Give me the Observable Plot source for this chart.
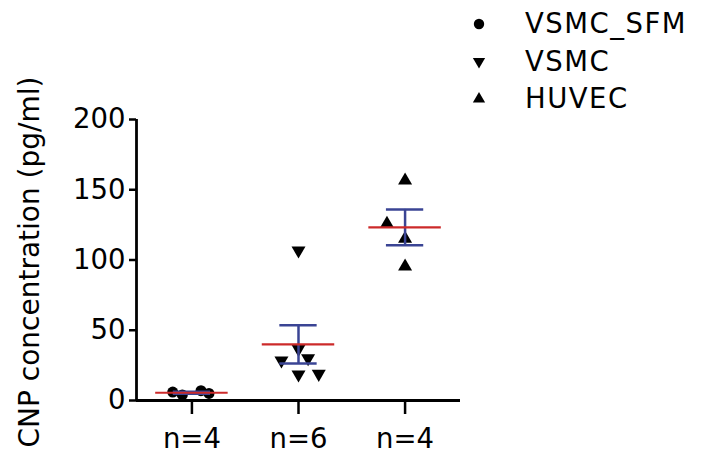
<!DOCTYPE html>
<html><head><meta charset="utf-8">
<script src="https://cdn.jsdelivr.net/npm/d3@7"></script>
<script src="https://cdn.jsdelivr.net/npm/@observablehq/plot@0.6"></script>
<style>
html,body{margin:0;padding:0;background:#fff;}
#wrap{position:relative;width:710px;height:463px;overflow:hidden;}
#wrap svg.chart{position:absolute;left:0;top:0;}
#legend{position:absolute;left:0;top:0;}
#wrap g[aria-label$="tick"] path{stroke-width:2.5px;stroke:#000;}
</style></head><body><div id="wrap"></div>
<script>
// ---- data ----
const seriesNames = ["VSMC_SFM", "VSMC", "HUVEC"];
const tickLabels = ["n=4", "n=6", "n=4"];
const yTicks = [0, 50, 100, 150, 200];
const yLabel = "CNP concentration (pg/ml)";
const sfmValues = [6, 4, 7, 5];
const sfmJitter = [-0.18, -0.09, 0.085, 0.16];
const vsmcValues = [106.8, 28.5, 36.8, 30.1, 18.5, 19.0];
const vsmcJitter = [0, -0.16, 0, 0.09, 0, 0.19];
const huvecValues = [156.6, 125.8, 115.1, 95.4];
const huvecJitter = [0, -0.17, 0, 0];

// ---- derived tables ----
const seriesValues = [sfmValues, vsmcValues, huvecValues];
const seriesJitter = [sfmJitter, vsmcJitter, huvecJitter];
const points = seriesValues.map((vals, g) =>
  vals.map((v, i) => ({g, x: g + seriesJitter[g][i], y: v, series: seriesNames[g]})));
const stats = seriesValues.map((vals, g) => {
  const m = d3.mean(vals), s = d3.deviation(vals) / Math.sqrt(vals.length);
  return {g, mean: m, lo: m - s, hi: m + s};
});

const xDomain = [-0.52, 2.52];
const yDomain = [0, 200];
const font = "DejaVu Sans";
const fs = 27.5;
const marginLeft = 136;

const triangleDown = {
  draw(context, size) {
    const y = Math.sqrt(size / (3 * Math.sqrt(3)));
    context.moveTo(0, 2 * y);
    context.lineTo(-Math.sqrt(3) * y, -y);
    context.lineTo(Math.sqrt(3) * y, -y);
    context.closePath();
  }
};
const symbols = ["circle", triangleDown, "triangle"];
const radii = [5.5, 5.2, 5.2];

const chart = Plot.plot({
  width: 710,
  height: 463,
  marginLeft: marginLeft,
  marginRight: 250,
  marginTop: 119,
  marginBottom: 63,
  style: {fontFamily: font, fontSize: fs + "px", color: "#000", background: "#fff"},
  x: {domain: xDomain, ticks: [0, 1, 2], tickFormat: i => tickLabels[i], tickSize: 14, tickPadding: 14, label: null},
  y: {domain: yDomain, ticks: yTicks, tickSize: 7, tickPadding: 4, label: null},
  marks: [
    Plot.ruleY([yDomain[0]], {stroke: "#000", strokeWidth: 2.8}),
    Plot.ruleX([xDomain[0]], {y1: yDomain[0], y2: yDomain[1], stroke: "#000", strokeWidth: 2.8}),
    ...points.map((pts, g) => Plot.dot(pts, {x: "x", y: "y", symbol: symbols[g], r: radii[g], fill: "#000", stroke: "none"})),
    Plot.ruleX(stats, {x: "g", y1: "lo", y2: "hi", stroke: "#3a4494", strokeWidth: 2.5}),
    Plot.ruleY(stats, {y: "hi", x1: d => d.g - 0.175, x2: d => d.g + 0.175, stroke: "#3a4494", strokeWidth: 2.5}),
    Plot.ruleY(stats, {y: "lo", x1: d => d.g - 0.175, x2: d => d.g + 0.175, stroke: "#3a4494", strokeWidth: 2.5}),
    Plot.ruleY(stats, {y: "mean", x1: d => d.g - 0.34, x2: d => d.g + 0.34, stroke: "#cc2a2a", strokeWidth: 2.2}),
    Plot.text([yLabel], {frameAnchor: "left", rotate: -90, dx: 30 - marginLeft, dy: 2, fontSize: 28, textAnchor: "middle", lineAnchor: "middle", fill: "#000"})
  ]
});
chart.classList.add("chart");
const wrap = document.getElementById("wrap");
wrap.appendChild(chart);

// ---- legend ----
const leg = d3.select(wrap).append("svg").attr("id", "legend").attr("width", 710).attr("height", 130);
const legRows = leg.selectAll("g").data(seriesNames).join("g")
  .attr("transform", (d, i) => `translate(0,${33 + i * 37.5})`);
legRows.append("path")
  .attr("transform", "translate(479,-9)")
  .attr("d", (d, i) => d3.symbol().type(i === 0 ? d3.symbolCircle : i === 1 ? triangleDown : d3.symbolTriangle).size(i === 0 ? 85 : 65)())
  .attr("fill", "#000");
legRows.append("text").attr("x", 525).attr("y", 0)
  .attr("font-family", font).attr("font-size", fs).attr("letter-spacing", 1.5).attr("fill", "#000")
  .text(d => d);
</script></body></html>
